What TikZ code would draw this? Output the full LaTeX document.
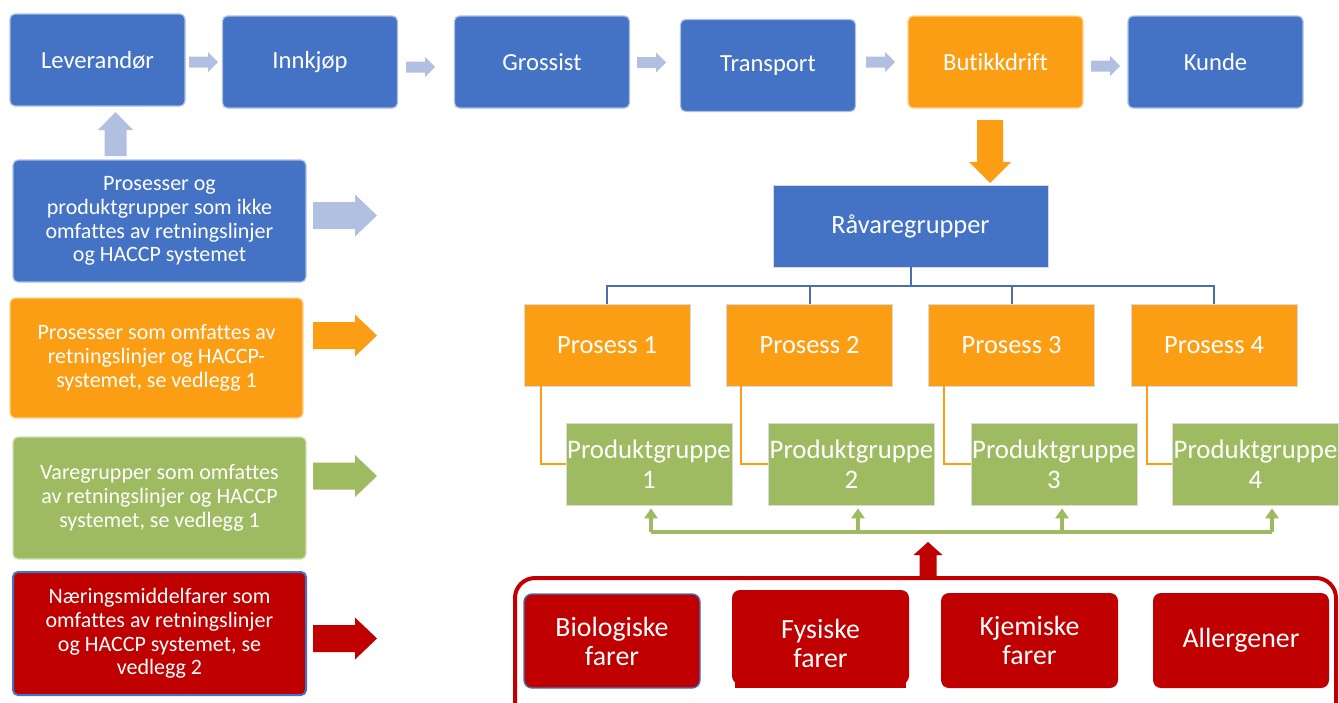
\documentclass[tikz,border=0pt]{standalone}
\usepackage{fontspec}
\setmainfont{Carlito}[Ligatures=NoCommon]
\usetikzlibrary{calc,arrows.meta}
\definecolor{myblue}{HTML}{4472C4}
\definecolor{myorange}{HTML}{FC9E14}
\definecolor{mygreen}{HTML}{9EBB62}
\definecolor{myred}{HTML}{C00000}
\definecolor{arrowblue}{HTML}{B1BFE0}
\definecolor{treeblue}{HTML}{4A6FB0}
\newcommand\harrow[7]{\fill[#7] (#1,{#3-#4}) -- ({#2-#6},{#3-#4}) -- ({#2-#6},{#3-#5}) -- (#2,#3) -- ({#2-#6},{#3+#5}) -- ({#2-#6},{#3+#4}) -- (#1,{#3+#4}) -- cycle;}
\newcommand\varrow[7]{\fill[#7] ({#1-#4},#2) -- ({#1-#4},{#3-(#6)}) -- ({#1-#5},{#3-(#6)}) -- (#1,#3) -- ({#1+#5},{#3-(#6)}) -- ({#1+#4},{#3-(#6)}) -- ({#1+#4},#2) -- cycle;}
\tikzset{
  basebox/.style={inner sep=0pt, align=center, text=white},
  toprow/.style={basebox, fill=myblue, draw=myblue!45!white, line width=0.6pt, rounded corners=2.5pt,
     minimum width=87.5pt, minimum height=46pt, font=\fontsize{12.3}{14}\selectfont},
  leftbox/.style={basebox, line width=0.6pt, rounded corners=2.5pt, minimum width=146.5pt, minimum height=61pt,
     font=\fontsize{11}{11.9}\selectfont},
  treebox/.style={basebox, draw=white!85!black, line width=0.3pt, font=\fontsize{13.2}{15}\selectfont},
  pgbox/.style={basebox, fill=mygreen, draw=white!85!black, line width=0.3pt, minimum width=83pt, minimum height=41pt,
     font=\fontsize{13.4}{15}\selectfont},
  hazbox/.style={basebox, fill=myred, rounded corners=4pt, minimum width=88pt, minimum height=47pt,
     font=\fontsize{13.9}{14.5}\selectfont},
  hazlabel/.style={basebox, align=center, font=\fontsize{13.9}{14.5}\selectfont},
  treeline/.style={draw=treeblue, line width=1pt},
  orangeline/.style={draw=myorange, line width=1pt},
  greenline/.style={draw=mygreen, line width=1.6pt},
  greenarrow/.style={greenline, -{Triangle[width=6.5pt,length=5pt]}, shorten >=1.5pt},
}
\begin{document}
\begin{tikzpicture}[x=0.5pt,y=-0.5pt]
\useasboundingbox (0,0) rectangle (1339,702);
% top row
\node[toprow] (lev) at (97.5,60) {Leverandør};
\node[toprow] (inn) at (310,62) {Innkjøp};
\node[toprow] (gro) at (542,62) {Grossist};
\node[toprow] (tra) at (768,65.5) {Transport};
\node[toprow, fill=myorange, draw=myorange!45!white] (but) at (995.5,62) {Butikkdrift};
\node[toprow] (kun) at (1215.5,62) {Kunde};
\harrow{189}{218}{62}{5.5}{10}{10}{arrowblue}
\harrow{406}{435}{67}{5.5}{10}{10}{arrowblue}
\harrow{637}{666}{62.5}{5.5}{10}{10}{arrowblue}
\harrow{866}{895}{62}{5.5}{10}{10}{arrowblue}
\harrow{1091}{1120}{66}{5.5}{10}{10}{arrowblue}
% left column
\node[leftbox, fill=myblue, draw=myblue!45!white] (la) at (159.5,221) {Prosesser og\\produktgrupper som ikke\\omfattes av retningslinjer\\og HACCP systemet};
\node[leftbox, fill=myorange, draw=myorange!45!white, minimum height=60pt] (lb) at (156.5,358) {Prosesser som omfattes av\\retningslinjer og HACCP-\\systemet, se vedlegg 1};
\node[leftbox, fill=mygreen, draw=mygreen!45!white] (lc) at (159.5,498) {Varegrupper som omfattes\\av retningslinjer og HACCP\\systemet, se vedlegg 1};
\node[leftbox, fill=myred, draw=myblue, line width=1pt, minimum height=61.5pt] (ld) at (159.5,633.5) {Næringsmiddelfarer som\\omfattes av retningslinjer\\og HACCP systemet, se\\vedlegg 2};
\varrow{115.5}{156}{112}{11}{17.5}{-18}{arrowblue}
\harrow{313}{377}{215.5}{13.5}{21}{22}{arrowblue}
\harrow{313}{377}{335.5}{13.5}{21}{22}{myorange}
\harrow{313}{377}{476}{13.5}{21}{22}{mygreen}
\harrow{313}{377}{638.5}{13.5}{21}{22}{myred}
% tree
\varrow{990}{120}{183}{13}{21}{21}{myorange}
\node[treebox, fill=myblue, minimum width=137.5pt, minimum height=41pt] (rav) at (910.5,226) {Råvaregrupper};
\node[treebox, fill=myorange, minimum width=83pt, minimum height=41pt] (p1) at (607,345) {Prosess 1};
\node[treebox, fill=myorange, minimum width=83pt, minimum height=41pt] (p2) at (809.5,345) {Prosess 2};
\node[treebox, fill=myorange, minimum width=83pt, minimum height=41pt] (p3) at (1011.5,345) {Prosess 3};
\node[treebox, fill=myorange, minimum width=83pt, minimum height=41pt] (p4) at (1214,345) {Prosess 4};
\draw[treeline] (rav.south) -- ++(0,19) coordinate (tj);
\foreach \p in {p1,p2,p3,p4} \draw[treeline] (tj) -| (\p.north);
\node[pgbox] (pg1) at (649,464) {Produktgruppe\\1};
\node[pgbox] (pg2) at (851.5,464) {Produktgruppe\\2};
\node[pgbox] (pg3) at (1054,464) {Produktgruppe\\3};
\node[pgbox] (pg4) at (1255.5,464) {Produktgruppe\\4};
\draw[orangeline] ($(p1.south west)+(17,0)$) |- (pg1.west);
\draw[orangeline] ($(p2.south west)+(15,0)$) |- (pg2.west);
\draw[orangeline] ($(p3.south west)+(16,0)$) |- (pg3.west);
\draw[orangeline] ($(p4.south west)+(16,0)$) |- (pg4.west);
\coordinate (g1) at (651,532);
\coordinate (g2) at (858,532);
\coordinate (g3) at (1062,532);
\coordinate (g4) at (1272,532);
\draw[greenline] (g1) -- (g4);
\draw[greenarrow] (g1) -- (g1 |- pg1.south);
\draw[greenarrow] (g2) -- (g2 |- pg2.south);
\draw[greenarrow] (g3) -- (g3 |- pg3.south);
\draw[greenarrow] (g4) -- (g4 |- pg4.south);
% hazards
\draw[myred, line width=2pt, rounded corners=10pt] (515,710) -- (515,578) -- (1336,578) -- (1336,710);
\varrow{928}{578}{542}{8.5}{14.5}{-13}{myred}
\node[hazbox, draw=myblue, line width=0.7pt] (bio) at (612,641) {Biologiske\\farer};
\fill[myred] (735,675) rectangle (906,688);
\fill[myred, rounded corners=4pt] (732,590) rectangle (909,684);
\node[hazlabel] (fys) at (820.5,643) {Fysiske\\farer};
\node[hazbox, minimum width=88.5pt, minimum height=47.5pt] (kje) at (1029.5,640.5) {Kjemiske\\farer};
\node[hazbox, minimum width=88pt, minimum height=47.5pt] (all) at (1241,640.5) {Allergener};
\end{tikzpicture}
\end{document}
